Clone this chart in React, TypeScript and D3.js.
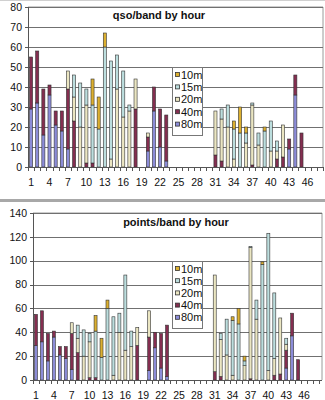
import React from "react";
import * as d3 from "d3";

const hours = d3.range(1, 49);
const bands = ["80m", "40m", "20m", "15m", "10m"];
const bandColors = ["#8c8cd8", "#842e50", "#ebe6c2", "#bcdede", "#dcb030"];

const qso80 = [29,32,16,36,21,18,9,0,0,0, 0,0,0,0,0,0,0,0,0,8, 28,10,3,0,0,0,0,0,0,0, 0,0,0,0,0,0,0,0,0,0, 0,0,9,36,0,0,0,0];
const qso40 = [26,26,23,5,7,10,30,23,0,2, 2,0,0,0,0,0,0,29,0,7, 12,19,23,0,0,0,0,0,0,0, 6,3,0,0,0,0,1,0,0,0, 4,5,5,10,17,0,0,0];
const qso20 = [0,0,0,0,0,0,9,12,20,29, 0,0,0,4,39,25,28,15,0,2, 0,0,0,0,0,0,0,0,0,0, 22,21,20,4,0,12,30,11,0,8, 4,16,0,0,0,0,0,0];
const qso15 = [0,0,0,0,0,0,0,11,22,8, 29,19,60,49,17,23,3,0,0,0, 0,0,0,0,0,0,0,0,0,0, 0,5,11,15,17,5,1,6,18,15, 5,0,0,0,0,0,0,0];
const qso10 = [0,0,0,0,0,0,0,0,0,0, 13,16,7,0,0,0,0,0,0,0, 0,0,0,0,0,0,0,0,0,0, 0,0,0,4,13,3,0,0,2,0, 0,0,0,0,0,0,0,0];

const pts80 = [29,32,16,36,21,18,9,0,0,0, 0,0,0,0,0,0,0,0,0,8, 27,10,3,0,0,0,0,0,0,0, 0,0,0,0,0,0,0,0,0,0, 0,0,10,37,0,0,0,0];
const pts40 = [26,26,23,5,7,10,30,23,0,2, 2,0,0,0,0,0,0,29,0,28, 13,29,43,0,0,0,0,0,0,0, 7,3,0,0,0,0,1,0,0,0, 4,5,15,19,17,0,0,0];
const pts20 = [0,0,0,0,0,0,9,12,20,30, 0,0,0,4,40,25,28,15,0,22, 0,0,0,0,0,0,0,0,0,0, 81,31,21,4,0,12,110,51,0,8, 14,47,5,0,0,0,0,0];
const pts15 = [0,0,0,0,0,0,0,11,22,7, 39,19,60,49,16,63,13,0,0,0, 0,0,0,0,0,0,0,0,0,0, 0,5,30,46,47,4,1,16,97,115, 55,0,5,0,0,0,0,0];
const pts10 = [0,0,0,0,0,0,0,0,0,0, 13,16,7,0,0,0,0,0,0,0, 0,0,0,0,0,0,0,0,0,0, 0,0,0,3,13,4,0,0,2,0, 0,0,0,0,0,0,0,0];

const qsoTicks = [0, 10, 20, 30, 40, 50, 60, 70, 80];
const ptsTicks = [0, 20, 40, 60, 80, 100, 120, 140];
const xLabelHours = [1, 4, 7, 10, 13, 16, 19, 22, 25, 28, 31, 34, 37, 40, 43, 46];

const FONT = "'Liberation Sans', Arial, sans-serif";

function buildRows(series: number[][]) {
  return hours.map((h, i) => {
    const row: any = { hour: h };
    bands.forEach((b, k) => (row[b] = series[k][i]));
    return row;
  });
}

type ChartProps = {
  title: string;
  series: number[][];
  ticks: number[];
  left: number;
  right: number;
  frameRight: number;
  top: number;
  bottom: number;
  titleX: number;
  titleY: number;
  legendX: number;
  legendY: number;
  legendH: number;
};

function Chart(p: ChartProps) {
  const rows = buildRows(p.series);
  const stack = d3.stack<any>().keys(bands)(rows);
  const x = d3.scaleBand<number>().domain(hours).range([p.left, p.right]).paddingInner(0.5).paddingOuter(0.25);
  const xb = d3.scaleBand<number>().domain(hours).range([p.left, p.right]);
  const y = d3.scaleLinear().domain([0, p.ticks[p.ticks.length - 1]]).range([p.bottom, p.top]);
  const legendItems = bands.map((b, i) => ({ b, c: bandColors[i] })).reverse();
  const step = (p.legendH - 6) / 5;
  return (
    <g>
      <line x1={p.left} x2={p.frameRight} y1={p.top} y2={p.top} stroke="#9a9a9a" />
      <line x1={p.frameRight} x2={p.frameRight} y1={p.top} y2={p.bottom} stroke="#9a9a9a" />
      {p.ticks.map((t) => (
        <g key={t}>
          {t > 0 && <line x1={p.left} x2={p.frameRight} y1={Math.round(y(t)) + 0.5} y2={Math.round(y(t)) + 0.5} stroke="#707070" />}
          <line x1={p.left - 3} x2={p.left} y1={Math.round(y(t)) + 0.5} y2={Math.round(y(t)) + 0.5} stroke="#555" />
          <text x={p.left - 6} y={y(t) + 3.7} textAnchor="end" fontSize={10.5} fontFamily={FONT} fill="#111">{t}</text>
        </g>
      ))}
      <text x={p.titleX} y={p.titleY} textAnchor="middle" fontSize={11} fontWeight="bold" fontFamily={FONT} fill="#111">{p.title}</text>
      {stack.map((s, k) => (
        <g key={bands[k]} fill={bandColors[k]} stroke="#333" strokeWidth={0.6}>
          {s.map((d: any) => (d[1] - d[0] > 0 ? (
            <rect key={d.data.hour} x={x(d.data.hour)} width={x.bandwidth()} y={y(d[1])} height={y(d[0]) - y(d[1])} />
          ) : null))}
        </g>
      ))}
      <line x1={p.left + 0.5} x2={p.left + 0.5} y1={p.top} y2={p.bottom} stroke="#555" />
      <line x1={p.left} x2={p.frameRight} y1={p.bottom + 0.5} y2={p.bottom + 0.5} stroke="#555" />
      {hours.concat([49]).map((h) => {
        const xx = h <= 48 ? (xb(h) as number) : p.right;
        return <line key={h} x1={Math.round(xx) + 0.5} x2={Math.round(xx) + 0.5} y1={p.bottom} y2={p.bottom + 4} stroke="#555" />;
      })}
      {xLabelHours.map((h) => (
        <text key={h} x={(xb(h) as number) + xb.bandwidth() / 2} y={p.bottom + 19} textAnchor="middle" fontSize={10.5} fontFamily={FONT} fill="#111">{h}</text>
      ))}
      <rect x={p.legendX + 0.5} y={p.legendY + 0.5} width={30} height={p.legendH} fill="#fff" stroke="#777" />
      {legendItems.map((it, i) => (
        <g key={it.b}>
          <rect x={p.legendX + 3.5} y={p.legendY + 5.5 + i * step} width={4} height={4} fill={it.c} stroke="#333" strokeWidth={0.8} />
          <text x={p.legendX + 9} y={p.legendY + 11.5 + i * step} fontSize={11} fontFamily={FONT} fill="#111">{it.b}</text>
        </g>
      ))}
    </g>
  );
}

export default function App() {
  return (
    <svg width={325} height={400} style={{ position: "absolute", left: 0, top: 0, background: "#fff" }}>
      <rect x={0} y={0} width={325} height={400} fill="#fff" />
      <line x1={0} x2={325} y1={0.5} y2={0.5} stroke="#d0d0d0" />
      <rect x={0} y={199} width={325} height={3} fill="#a8a8a8" />
      <Chart
        title="qso/band by hour"
        series={[qso80, qso40, qso20, qso15, qso10]}
        ticks={qsoTicks}
        left={28}
        right={323}
        frameRight={323}
        top={7}
        bottom={167}
        titleX={159}
        titleY={19}
        legendX={172}
        legendY={67}
        legendH={68}
      />
      <Chart
        title="points/band by hour"
        series={[pts80, pts40, pts20, pts15, pts10]}
        ticks={ptsTicks}
        left={33}
        right={319}
        frameRight={322}
        top={213}
        bottom={380}
        titleX={176}
        titleY={226}
        legendX={172}
        legendY={261}
        legendH={67}
      />
    </svg>
  );
}
